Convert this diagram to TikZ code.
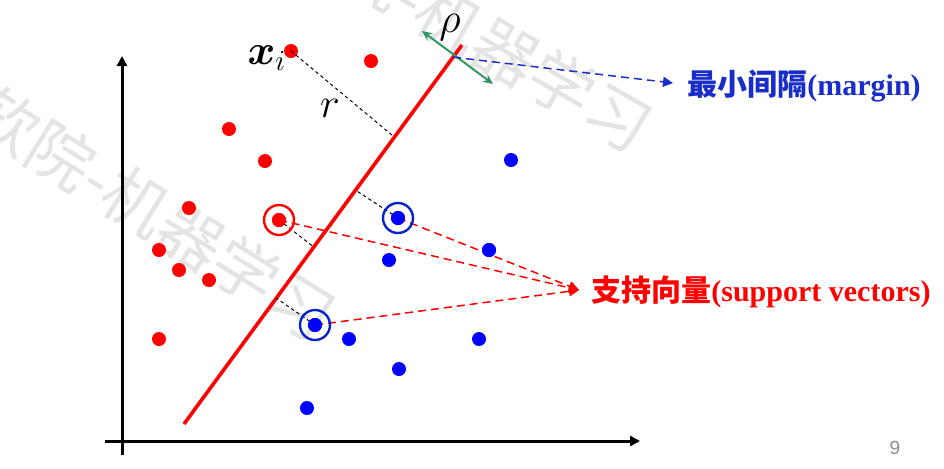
\documentclass[tikz,border=0pt]{standalone}
\usepackage{amsmath}
\usepackage{bm}
\usepackage{graphicx}
\usepackage{fontspec}
\setmainfont{Liberation Serif}
\setsansfont{Liberation Sans}
\newfontfamily\cjk{Noto Sans CJK SC}
\usetikzlibrary{arrows.meta,calc}
\definecolor{ptred}{RGB}{255,0,0}
\definecolor{ptblue}{RGB}{0,0,255}
\definecolor{ringblue}{RGB}{10,35,200}
\definecolor{mblue}{RGB}{25,45,200}
\definecolor{mgreen}{RGB}{50,150,100}
\definecolor{wmgray}{RGB}{228,228,228}
\definecolor{pgray}{RGB}{140,140,140}
\newcommand{\mbig}[1]{\scalebox{1.22}{#1}}
\tikzset{
  rdot/.style={circle,fill=ptred,inner sep=0pt,minimum size=7pt},
  bdot/.style={circle,fill=ptblue,inner sep=0pt,minimum size=7pt},
  rring/.style={circle,draw=ptred,line width=1.2pt,inner sep=0pt,minimum size=15pt},
  bring/.style={circle,draw=ringblue,line width=1.2pt,inner sep=0pt,minimum size=15pt},
  axis/.style={line width=1.5pt,-{Triangle[length=5pt,width=5pt]}},
  hyper/.style={ptred,line width=1.8pt},
  perpdash/.style={black,line width=0.5pt,dash pattern=on 1.7pt off 1.5pt},
  svdash/.style={ptred,line width=0.75pt,dash pattern=on 4pt off 2.5pt,-{Triangle[length=5pt,width=5pt]}},
  mdash/.style={mblue,line width=0.75pt,dash pattern=on 4pt off 2.5pt,-{Triangle[length=5pt,width=5pt]}},
  rhoarrow/.style={mgreen,line width=1pt,{Stealth[length=5pt,width=4.5pt]}-{Stealth[length=5pt,width=4.5pt]}},
  watermark/.style={text=wmgray,font=\cjk\fontsize{32.5}{32.5}\selectfont,inner sep=0pt},
  lbl/.style={inner sep=0pt,font=\bfseries\fontsize{15}{17}\selectfont},
  mlbl/.style={inner sep=0pt,font=\fontsize{17.28}{20}\selectfont}
}
\begin{document}
\begin{tikzpicture}[x=0.5pt,y=-0.5pt]
\useasboundingbox (0,0) rectangle (944,468);
\clip (0,0) rectangle (944,468);
% watermark
\node[watermark,rotate=-32] (wm1) at (154,213) {软院-机器学习};
\node[watermark,rotate=-30] (wm2) at (468,30) {软院-机器学习};
% axes
\coordinate (o1) at (122,455);
\coordinate (yt) at (122,56);
\coordinate (o2) at (105,441);
\coordinate (xt) at (640,441);
\draw[axis] (o1) -- (yt);
\draw[axis] (o2) -- (xt);
% separating line
\coordinate (lB) at (184,424);
\coordinate (lT) at (462,45);
\draw[hyper] (lB) -- (lT);
% points
\node[rdot] (xi) at (291,51) {};
\node[rdot] (r2) at (371,61) {};
\node[rdot] (r3) at (229,129) {};
\node[rdot] (r4) at (265,161) {};
\node[rdot] (r5) at (189,208) {};
\node[rdot] (rs) at (279,220) {};
\node[rdot] (r7) at (159,250) {};
\node[rdot] (r8) at (179,270) {};
\node[rdot] (r9) at (209,280) {};
\node[rdot] (r10) at (159,339) {};
\node[bdot] (b1) at (511,160) {};
\node[bdot] (bs1) at (398,218) {};
\node[bdot] (b3) at (489,250) {};
\node[bdot] (b4) at (389,260) {};
\node[bdot] (bs2) at (315,325) {};
\node[bdot] (b6) at (349,339) {};
\node[bdot] (b7) at (479,339) {};
\node[bdot] (b8) at (399,369) {};
\node[bdot] (b9) at (307,408) {};
% feet on the line
\coordinate (fx) at ($(lB)!0.757!(lT)$);
\coordinate (fr) at ($(lB)!0.467!(lT)$);
\coordinate (fb1) at ($(lB)!0.617!(lT)$);
\coordinate (fb2) at ($(lB)!0.332!(lT)$);
\coordinate (fm) at ($(lB)!0.968!(lT)$);
\draw[perpdash] (xi.center) -- (fx);
\draw[perpdash] (rs.center) -- (fr);
\draw[perpdash] (bs1.center) -- (fb1);
\draw[perpdash] (bs2.center) -- (fb2);
% support vector pointers
\coordinate (sv) at (579,290);
\draw[svdash] (rs.center) -- (sv);
\draw[svdash] (bs1.center) -- (sv);
\draw[svdash] (bs2.center) -- (sv);
% redraw dots on top
\fill[ptred] (rs) circle[radius=3.5pt];
\fill[ptblue] (bs1) circle[radius=3.5pt];
\fill[ptblue] (bs2) circle[radius=3.5pt];
\fill[ptblue] (b3) circle[radius=3.5pt];
% rings
\node[rring] (rsr) at (rs) {};
\node[bring] (bs1r) at (bs1) {};
\node[bring] (bs2r) at (bs2) {};
% margin
\coordinate (ga) at (422,31);
\coordinate (gb) at (493,84);
\draw[rhoarrow] (ga) -- (gb);
\coordinate (mt) at (673,83);
\draw[mdash] (fm) -- (mt);
% labels
\node[mlbl] (xil) at (267,58) {\mbig{$\bm{x}_{i}$}};
\node[mlbl] (rl) at (330,108) {\mbig{$r$}};
\node[mlbl] (rho) at (450,28) {\mbig{$\rho$}};
\node[lbl,anchor=west,text=mblue] (mlab) at (687,86) {{\cjk\bfseries 最小间隔}(margin)};
\node[lbl,anchor=west,text=ptred] (svlab) at (591,292) {{\cjk\bfseries 支持向量}(support vectors)};
\node[inner sep=0pt,text=pgray,font=\sffamily\fontsize{9.5}{10}\selectfont] (pg) at (895,448) {9};
\end{tikzpicture}
\end{document}
